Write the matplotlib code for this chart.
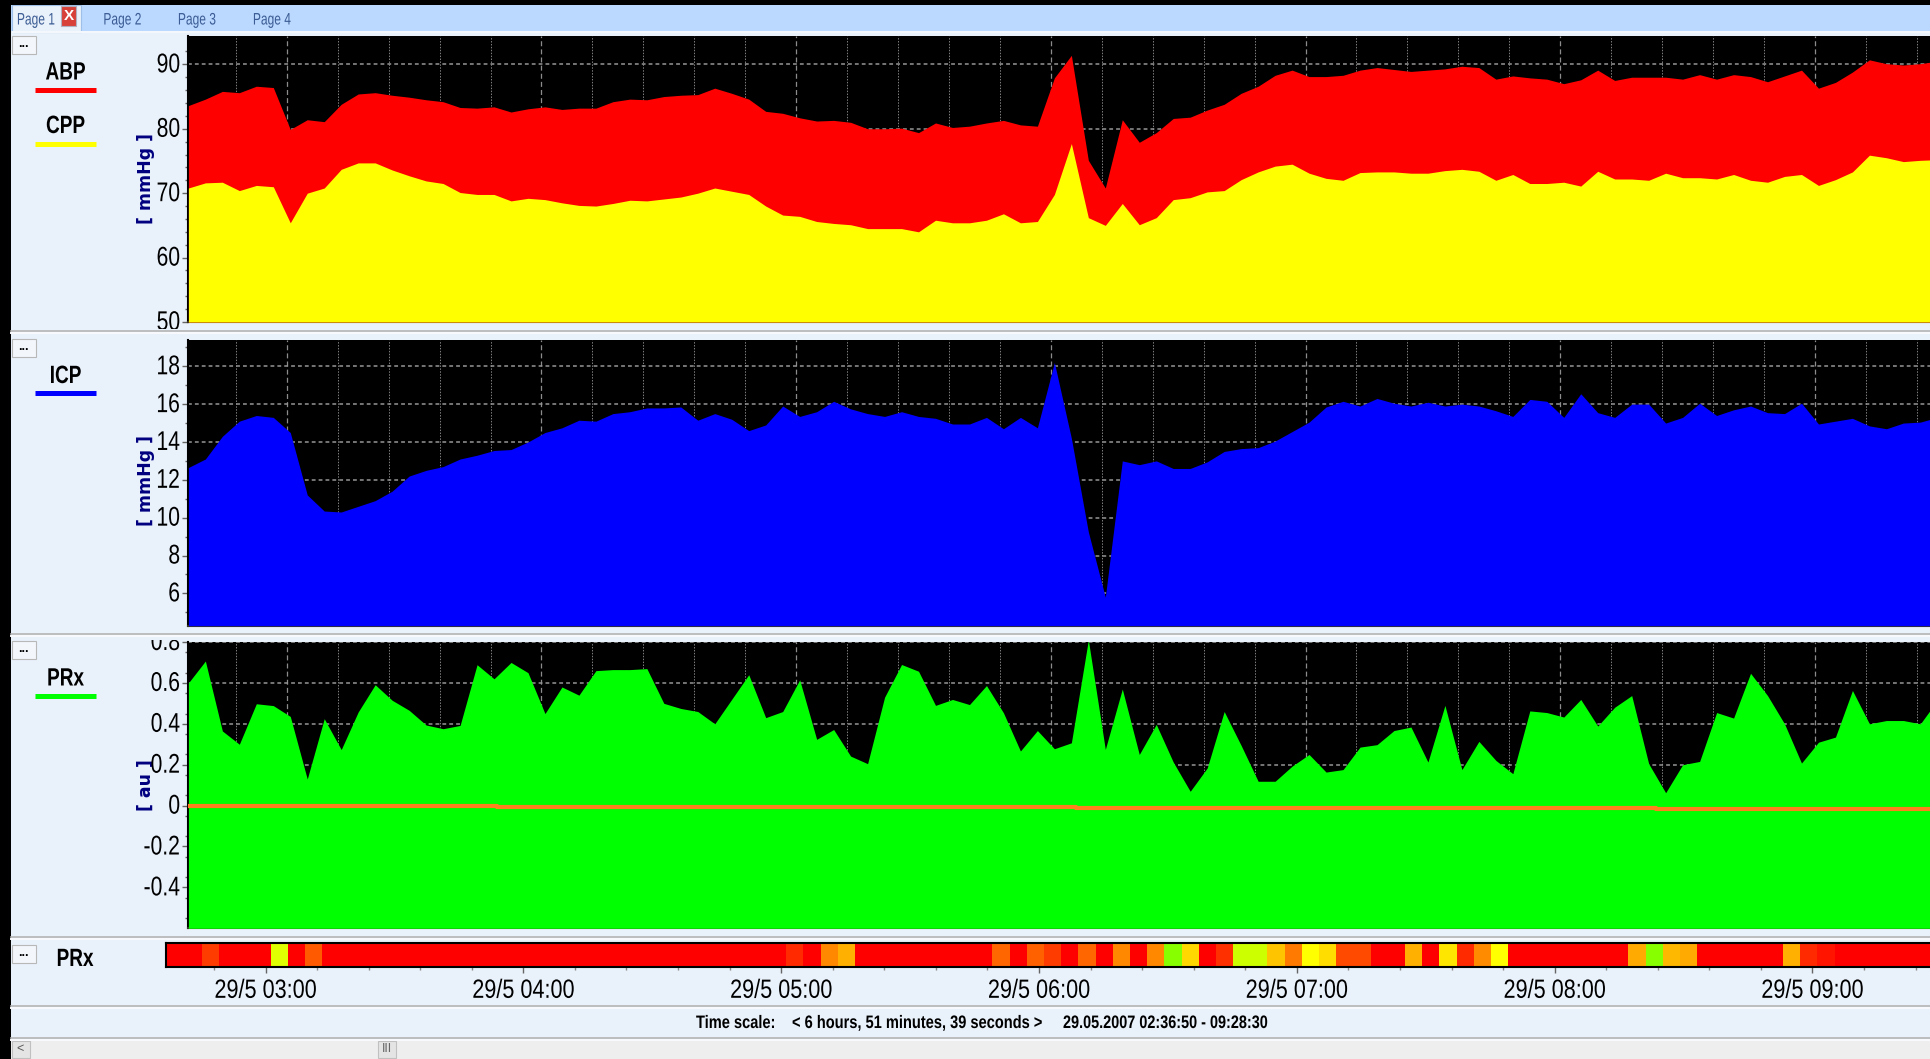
# -*- coding: utf-8 -*-
import matplotlib
matplotlib.use('Agg')
import matplotlib.pyplot as plt
from matplotlib.patches import Rectangle
from matplotlib.patheffects import AbstractPathEffect
from matplotlib.transforms import Affine2D, Bbox
import numpy as np

plt.rcParams['font.family'] = ['Liberation Sans', 'DejaVu Sans']

W, H = 1931, 1059
START_MIN = 2 * 60 + 36 + 50 / 60  # 02:36:50

abp = [83.6, 84.6, 85.8, 85.6, 86.6, 86.4, 79.9, 81.4, 81.1, 83.8, 85.4, 85.6, 85.2, 84.9, 84.5, 84.2, 83.3, 83.2,
       83.4, 82.6, 83.1, 83.4, 83.0, 83.2, 83.2, 84.2, 84.6, 84.5, 85.0, 85.2, 85.3, 86.3, 85.5, 84.6, 82.7, 82.4,
       81.7, 81.2, 81.3, 81.0, 80.0, 80.0, 80.1, 79.4, 80.9, 80.2, 80.4, 80.9, 81.3, 80.6, 80.4, 87.9, 91.4, 75.1,
       70.8, 81.4, 77.9, 79.4, 81.6, 81.8, 82.9, 83.8, 85.5, 86.6, 88.3, 89.1, 88.1, 88.1, 88.3, 89.1, 89.5, 89.2,
       88.9, 89.1, 89.3, 89.7, 89.5, 87.7, 88.2, 87.9, 87.7, 87.0, 87.6, 89.1, 87.5, 88.0, 88.0, 88.0, 87.7, 88.4,
       87.7, 88.4, 88.1, 87.3, 88.2, 89.1, 86.3, 87.2, 88.8, 90.7, 90.1, 89.9, 90.1, 90.5]
cpp = [70.8, 71.6, 71.7, 70.4, 71.2, 71.0, 65.4, 70.0, 70.8, 73.7, 74.7, 74.7, 73.6, 72.7, 71.9, 71.5, 70.1, 69.8,
       69.8, 68.8, 69.2, 69.0, 68.5, 68.1, 68.0, 68.4, 68.9, 68.8, 69.1, 69.4, 70.0, 70.8, 70.3, 69.8, 68.0, 66.6,
       66.4, 65.6, 65.3, 65.1, 64.5, 64.5, 64.5, 64.0, 65.8, 65.4, 65.4, 65.8, 66.8, 65.4, 65.6, 69.8, 77.7, 66.2,
       65.0, 68.4, 65.1, 66.2, 69.0, 69.3, 70.2, 70.4, 72.1, 73.3, 74.2, 74.5, 73.1, 72.3, 72.0, 73.2, 73.3, 73.3,
       73.1, 73.1, 73.5, 73.7, 73.4, 72.0, 72.9, 71.5, 71.5, 71.7, 71.1, 73.4, 72.2, 72.2, 72.0, 73.1, 72.4, 72.4,
       72.2, 72.9, 72.0, 71.7, 72.6, 72.9, 71.2, 72.1, 73.3, 75.9, 75.5, 74.9, 75.1, 75.2]
icp = [12.65, 13.1, 14.3, 15.1, 15.4, 15.3, 14.5, 11.2, 10.35, 10.3, 10.6, 10.9, 11.4, 12.2, 12.5, 12.7, 13.1, 13.3,
       13.55, 13.6, 14.0, 14.5, 14.75, 15.15, 15.1, 15.5, 15.6, 15.8, 15.8, 15.85, 15.15, 15.5, 15.2, 14.6, 14.9, 15.9,
       15.35, 15.6, 16.15, 15.75, 15.5, 15.35, 15.6, 15.35, 15.25, 14.95, 14.95, 15.3, 14.7, 15.3, 14.75, 18.2, 14.2,
       9.25, 5.8, 13.0, 12.8, 13.0, 12.6, 12.6, 12.95, 13.5, 13.65, 13.7, 14.05, 14.55, 15.05, 15.85, 16.15, 15.9, 16.3,
       16.05, 15.9, 16.1, 15.9, 16.0, 15.9, 15.65, 15.35, 16.25, 16.15, 15.3, 16.55, 15.55, 15.3, 16.0, 16.0, 15.0,
       15.3, 16.05, 15.4, 15.7, 15.9, 15.55, 15.5, 16.05, 14.95, 15.1, 15.25, 14.85, 14.7, 15.0, 15.05, 15.3]
prx = [0.6, 0.707, 0.365, 0.30, 0.498, 0.489, 0.436, 0.13, 0.425, 0.274, 0.458, 0.591, 0.515, 0.466, 0.394, 0.376,
       0.392, 0.689, 0.62, 0.70, 0.65, 0.45, 0.58, 0.54, 0.66, 0.665, 0.665, 0.67, 0.50, 0.475, 0.46, 0.40, 0.52, 0.64,
       0.43, 0.46, 0.615, 0.324, 0.372, 0.242, 0.205, 0.53, 0.69, 0.657, 0.49, 0.519, 0.494, 0.587, 0.454, 0.267, 0.367,
       0.278, 0.307, 0.81, 0.275, 0.57, 0.25, 0.397, 0.213, 0.07, 0.184, 0.46, 0.294, 0.119, 0.119, 0.193, 0.25, 0.164,
       0.176, 0.286, 0.298, 0.367, 0.384, 0.213, 0.49, 0.176, 0.314, 0.221, 0.156, 0.463, 0.455, 0.433, 0.519, 0.389,
       0.481, 0.538, 0.205, 0.063, 0.2, 0.216, 0.455, 0.428, 0.647, 0.538, 0.4, 0.208, 0.31, 0.335, 0.563, 0.4, 0.416,
       0.416, 0.4, 0.514]

# orange reference line, steps at these clock times
ref_times = [156.83, 229.5, 366.0, 502.5, 570.0]
ref_vals = [0.0, -0.005, -0.01, -0.017, -0.017]

R = '#ff0000'
heat_colors = [R, R, '#ff3c00', R, R, R, '#e0ff00', R, '#ff5a00'] + [R] * 27 + [
    '#ff2a00', R, '#ff8800', '#ffb000'] + [R] * 8 + [
    '#ff6600', R, '#ff6000', '#ff3c00', R, '#ff6600', R, '#ff8800', R, '#ff8800', '#88ff00', '#ffd800', R, '#ff3000',
    '#ccff00', '#ccff00', '#ffc400', '#ff7a00', '#ffff00', '#ffdd00', '#ff4a00', '#ff4a00', R, R, '#ffb000', R,
    '#ffe600', '#ff2a00', '#ff8c00', '#ffff00'] + [R] * 7 + [
    '#ffaa00', '#88ff00', '#ffb800', '#ffaa00'] + [R] * 5 + ['#ffb000', '#ff2a00', '#ff1400'] + [R] * 6

hour_labels = ['29/5 03:00', '29/5 04:00', '29/5 05:00', '29/5 06:00', '29/5 07:00', '29/5 08:00', '29/5 09:00']
hour_ticks = [180, 240, 300, 360, 420, 480, 540]
minor_ticks = [m for m in range(168, 570, 12) if m % 60 != 0]

sample_t = START_MIN + 4 * np.arange(len(abp))
cell_t = START_MIN + 0.33 + 4 * np.arange(len(heat_colors))

BG = '#e9f1fa'
fig = plt.figure(figsize=(W / 100, H / 100), dpi=100, facecolor=BG)


class Squeeze(AbstractPathEffect):
    # the program's text is condensed, no narrow font here so squash the glyphs sideways
    def __init__(self, sx, cx, dy=0):
        super().__init__()
        self.tr = Affine2D().translate(-cx, 0).scale(sx, 1).translate(cx, dy)

    def draw_path(self, renderer, gc, tpath, affine, rgbFace=None):
        renderer.draw_path(gc, tpath, affine + self.tr, rgbFace)


def px_axes(x0, y0, x1, y1, **kw):
    return fig.add_axes([x0 / W, 1 - y1 / H, (x1 - x0) / W, (y1 - y0) / H], **kw)


# window chrome in pixel coordinates
ui = px_axes(0, 0, W, H)
ui.set_xlim(0, W)
ui.set_ylim(H, 0)
ui.axis('off')


def box(x0, y0, x1, y1, fc, ec='none', lw=0):
    ui.add_patch(Rectangle((x0, y0), x1 - x0, y1 - y0, fc=fc, ec=ec, lw=lw))


def label(x, y, s, sx, ha='center', **kw):
    ui.text(x, y, s, ha=ha, va='center', path_effects=[Squeeze(sx, x)], **kw)


box(0, 5, W, 31, '#bbd8ff')
box(12, 5, 81, 32, '#e9f1fa', '#9fc0e8', 0.8)
box(12, 31, W, 33, '#f4f8fd')
box(61, 6, 76, 26, '#d8403a', '#b0b0c0', 0.8)
ui.text(68.5, 16, 'X', color='white', fontsize=11, weight='bold', ha='center', va='center')
box(0, 0, W, 5, 'black')
box(0, 0, 11, H, 'black')
box(11, 1039, W, H, '#eeeeee')
for yy in [330.5, 633.5, 936.5, 1005.7, 1038.3]:
    ui.plot([11, W], [yy, yy], color='#b4b4b4', lw=1.2)
    ui.plot([11, W], [yy + 2, yy + 2], color='#f8fafd', lw=1.4)
for by in [36, 339, 641, 945]:
    box(12, by, 36, by + 18, '#f3f6fb', '#b8b8b8', 0.8)
    ui.text(23, by + 8, '...', color='black', fontsize=9, weight='bold', ha='center', va='center')
box(12, 1041, 30, 1058, '#e4e4e4', '#c0c0c0', 0.8)
ui.text(20, 1049, '<', color='#555555', fontsize=9, ha='center', va='center')
box(378, 1041, 396, 1058, '#e4e4e4', '#c0c0c0', 0.8)
ui.text(387, 1049, 'III', color='#666666', fontsize=9, ha='center', va='center')

for tx, name in zip([36, 122.5, 197, 272], ['Page 1', 'Page 2', 'Page 3', 'Page 4']):
    label(tx, 20, name, 0.72, color='#3b5c94', fontsize=12)

LEG = 18
for name, color, ty, sy in [('ABP', '#ff0000', 72.5, 89.8), ('CPP', '#ffff00', 126, 143.5),
                            ('ICP', '#0000ff', 376, 392.5), ('PRx', '#00ff00', 678.5, 695.5)]:
    label(65.5, ty, name, 0.76, color='black', fontsize=LEG, weight='bold')
    ui.plot([35, 96], [sy, sy], color=color, lw=3.6, solid_capstyle='butt')
label(75, 959, 'PRx', 0.76, color='black', fontsize=LEG, weight='bold')

for yc, name in [(178, '[ mmHg ]'), (481, '[ mmHg ]'), (785, '[ au ]')]:
    ui.text(146, yc, name, color='#000080', fontsize=12.5, rotation=90, ha='center', va='center',
            family='DejaVu Sans', weight='bold')

label(696, 1023.5, 'Time scale:', 0.81, ha='left', color='black', fontsize=13, weight='bold')
label(792, 1023.5, '< 6 hours, 51 minutes, 39 seconds >', 0.81, ha='left', color='black', fontsize=13, weight='bold')
label(1063, 1023.5, '29.05.2007 02:36:50 - 09:28:30', 0.8, ha='left', color='black', fontsize=13, weight='bold')


def panel(y0, y1, ylim, yticks, ylabels, yminor, clip):
    ax = px_axes(188.4, y0, W, y1)
    ax.set_facecolor('black')
    ax.set_xlim(START_MIN, START_MIN + (W - 188.4) / 4.245)
    ax.set_ylim(*ylim)
    ax.set_xticks(hour_ticks)
    ax.set_xticks(minor_ticks, minor=True)
    ax.set_yticks(yticks)
    ax.set_yticklabels(ylabels)
    ax.set_yticks(yminor, minor=True)
    ax.tick_params(axis='x', which='both', length=0, labelbottom=False)
    ax.tick_params(axis='y', which='major', length=4, width=1, color='#666666', labelsize=19.5, pad=2)
    ax.tick_params(axis='y', which='minor', length=2, width=1, color='#666666')
    ax.grid(axis='y', which='major', color='#969696', lw=1.1, ls=(0, (2.5, 2)))
    ax.grid(axis='x', which='major', color='#8c8c8c', lw=0.9, ls=(0, (4, 2.5)))
    ax.grid(axis='x', which='minor', color='#808080', lw=0.7, ls=(0, (1.5, 1.5)))
    ax.set_axisbelow(True)
    for s in ['top', 'right']:
        ax.spines[s].set_visible(False)
    ax.spines['left'].set_linewidth(1.5)
    ax.spines['bottom'].set_linewidth(1.5)
    ax.spines['left'].set_color('black')
    ax.spines['bottom'].set_color('#333322')
    # tick labels get cut off at the panel border like in the program
    cb = Bbox([[0, H - clip[1]], [188, H - clip[0]]])
    for lab in ax.get_yticklabels():
        lab.set_clip_on(True)
        lab.set_clip_box(cb)
        lab.set_path_effects([Squeeze(0.78, 180, dy=2)])
    return ax


ax1 = panel(36, 322, (50, 94.4), [50, 60, 70, 80, 90], ['50', '60', '70', '80', '90'],
            list(range(52, 94, 2)), (34, 329))
ax1.fill_between(sample_t, abp, 50, color='#ff0000', lw=0, zorder=3)
ax1.fill_between(sample_t, cpp, 50, color='#ffff00', lw=0, zorder=4)

ax2 = panel(340, 625.7, (4.29, 19.39), [6, 8, 10, 12, 14, 16, 18], ['6', '8', '10', '12', '14', '16', '18'],
            list(np.arange(5, 19.2, 1.0)), (338, 632))
ax2.fill_between(sample_t, icp, 4.29, color='#0000ff', lw=0, zorder=3)

ax3 = panel(642, 928.3, (-0.6, 0.8), [-0.4, -0.2, 0, 0.2, 0.4, 0.6, 0.8],
            ['-0.4', '-0.2', '0', '0.2', '0.4', '0.6', '0.8'],
            list(np.arange(-0.55, 0.8, 0.1)), (640, 935))
ax3.fill_between(sample_t, prx, -0.6, color='#00ff00', lw=0, zorder=3)
ax3.step(ref_times, ref_vals, where='post', color='#ff7f1e', lw=3, zorder=4)

ax4 = px_axes(166, 943, W, 967)
ax4.bar(cell_t, 1, width=4, align='edge', color=heat_colors, lw=0)
ax4.set_xlim(START_MIN, START_MIN + (W - 166) / 4.297)
ax4.set_ylim(0, 1)
ax4.set_yticks([])
ax4.set_xticks(hour_ticks)
ax4.set_xticklabels(hour_labels)
ax4.set_xticks(minor_ticks, minor=True)
ax4.tick_params(axis='x', which='major', length=4, width=1, color='#666666', labelsize=19, pad=4.5)
ax4.tick_params(axis='x', which='minor', length=2, width=1, color='#888888')
for t, lab in zip(hour_ticks, ax4.get_xticklabels()):
    lab.set_path_effects([Squeeze(0.82, 166 + (t - START_MIN) * 4.297)])
for s in ax4.spines.values():
    s.set_linewidth(1.5)
    s.set_color('black')
ax4.spines['right'].set_visible(False)

fig.savefig('out.png', dpi=100, facecolor=BG)
